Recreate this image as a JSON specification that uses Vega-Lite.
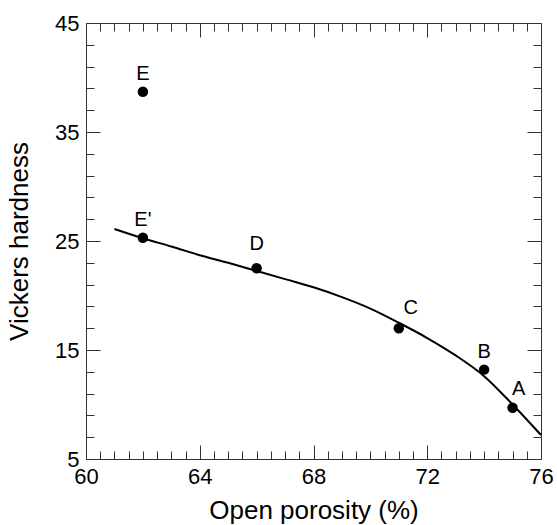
{
  "$schema": "https://vega.github.io/schema/vega-lite/v6.json",
  "width": 455,
  "height": 436,
  "autosize": "none",
  "padding": {"left": 86, "top": 23, "right": 16, "bottom": 66},
  "background": "white",
  "config": {
    "view": {"stroke": null},
    "font": "Liberation Sans",
    "axis": {
      "labelFont": "Liberation Sans",
      "titleFont": "Liberation Sans",
      "labelColor": "black",
      "titleColor": "black",
      "titleFontWeight": "normal",
      "domainColor": "#333",
      "tickColor": "#333",
      "grid": false,
      "labelFlush": false,
      "labelOverlap": false
    }
  },
  "datasets": {
    "points": [
      {"porosity": 62, "hardness": 38.7, "sample": "E"},
      {"porosity": 62, "hardness": 25.3, "sample": "E'"},
      {"porosity": 66, "hardness": 22.5, "sample": "D"},
      {"porosity": 71, "hardness": 17.0, "sample": "C"},
      {"porosity": 74, "hardness": 13.2, "sample": "B"},
      {"porosity": 75, "hardness": 9.7, "sample": "A"}
    ],
    "fit": [
      {"porosity": 61, "hardness": 26.1},
      {"porosity": 62, "hardness": 25.25},
      {"porosity": 63, "hardness": 24.5},
      {"porosity": 64, "hardness": 23.7},
      {"porosity": 65, "hardness": 23.0},
      {"porosity": 66, "hardness": 22.25},
      {"porosity": 67, "hardness": 21.5},
      {"porosity": 68, "hardness": 20.75},
      {"porosity": 69, "hardness": 19.85},
      {"porosity": 70, "hardness": 18.8},
      {"porosity": 71, "hardness": 17.5},
      {"porosity": 72, "hardness": 16.1},
      {"porosity": 73, "hardness": 14.5},
      {"porosity": 74, "hardness": 12.6},
      {"porosity": 75, "hardness": 10.0},
      {"porosity": 76, "hardness": 7.2}
    ]
  },
  "resolve": {"axis": {"x": "independent", "y": "independent"}},
  "layer": [
    {
      "data": {"name": "points"},
      "mark": {"type": "point", "filled": true, "color": "black", "opacity": 1, "size": 110},
      "encoding": {
        "x": {
          "field": "porosity", "type": "quantitative",
          "scale": {"domain": [60, 76], "nice": false, "zero": false},
          "axis": {
            "orient": "bottom",
            "title": "Open porosity (%)",
            "titleFontSize": 26,
            "titlePadding": 4,
            "labelFontSize": 22,
            "labelPadding": 21,
            "format": "~g",
            "values": [60,60.5,61,61.5,62,62.5,63,63.5,64,64.5,65,65.5,66,66.5,67,67.5,68,68.5,69,69.5,70,70.5,71,71.5,72,72.5,73,73.5,74,74.5,75,75.5,76],
            "labelExpr": "datum.value % 4 === 0 ? datum.label : ''",
            "tickSize": {"condition": {"test": "datum.value % 4 === 0", "value": -14}, "value": -8}
          }
        },
        "y": {
          "field": "hardness", "type": "quantitative",
          "scale": {"domain": [5, 45], "nice": false, "zero": false},
          "axis": {
            "orient": "left",
            "title": "Vickers hardness",
            "titleFontSize": 26,
            "titlePadding": 22,
            "labelFontSize": 22,
            "labelPadding": 21,
            "format": "~g",
            "values": [5,7,9,11,13,15,17,19,21,23,25,27,29,31,33,35,37,39,41,43,45],
            "labelExpr": "(datum.value - 5) % 10 === 0 ? datum.label : ''",
            "tickSize": {"condition": {"test": "(datum.value - 5) % 10 === 0", "value": -14}, "value": -8}
          }
        }
      }
    },
    {
      "data": {"name": "fit"},
      "mark": {"type": "line", "color": "black", "strokeWidth": 2, "interpolate": "monotone"},
      "encoding": {
        "x": {
          "field": "porosity", "type": "quantitative",
          "axis": {
            "orient": "top", "title": null, "labels": false,
            "values": [60,60.5,61,61.5,62,62.5,63,63.5,64,64.5,65,65.5,66,66.5,67,67.5,68,68.5,69,69.5,70,70.5,71,71.5,72,72.5,73,73.5,74,74.5,75,75.5,76],
            "tickSize": {"condition": {"test": "datum.value % 4 === 0", "value": -14}, "value": -8}
          }
        },
        "y": {
          "field": "hardness", "type": "quantitative",
          "axis": {
            "orient": "right", "title": null, "labels": false,
            "values": [5,7,9,11,13,15,17,19,21,23,25,27,29,31,33,35,37,39,41,43,45],
            "tickSize": {"condition": {"test": "(datum.value - 5) % 10 === 0", "value": -14}, "value": -8}
          }
        }
      }
    },
    {
      "data": {"name": "points"},
      "transform": [{"filter": {"field": "sample", "oneOf": ["E", "E'", "B"]}}],
      "mark": {"type": "text", "fontSize": 20, "color": "black", "baseline": "alphabetic", "dy": -12},
      "encoding": {
        "x": {"field": "porosity", "type": "quantitative", "axis": null},
        "y": {"field": "hardness", "type": "quantitative", "axis": null},
        "text": {"field": "sample"}
      }
    },
    {
      "data": {"name": "points"},
      "transform": [{"filter": {"field": "sample", "equal": "D"}}],
      "mark": {"type": "text", "fontSize": 20, "color": "black", "baseline": "alphabetic", "dy": -18},
      "encoding": {
        "x": {"field": "porosity", "type": "quantitative", "axis": null},
        "y": {"field": "hardness", "type": "quantitative", "axis": null},
        "text": {"field": "sample"}
      }
    },
    {
      "data": {"name": "points"},
      "transform": [{"filter": {"field": "sample", "equal": "C"}}],
      "mark": {"type": "text", "fontSize": 20, "color": "black", "baseline": "alphabetic", "dx": 12, "dy": -14},
      "encoding": {
        "x": {"field": "porosity", "type": "quantitative", "axis": null},
        "y": {"field": "hardness", "type": "quantitative", "axis": null},
        "text": {"field": "sample"}
      }
    },
    {
      "data": {"name": "points"},
      "transform": [{"filter": {"field": "sample", "equal": "A"}}],
      "mark": {"type": "text", "fontSize": 20, "color": "black", "baseline": "alphabetic", "dx": 6, "dy": -13},
      "encoding": {
        "x": {"field": "porosity", "type": "quantitative", "axis": null},
        "y": {"field": "hardness", "type": "quantitative", "axis": null},
        "text": {"field": "sample"}
      }
    }
  ]
}
